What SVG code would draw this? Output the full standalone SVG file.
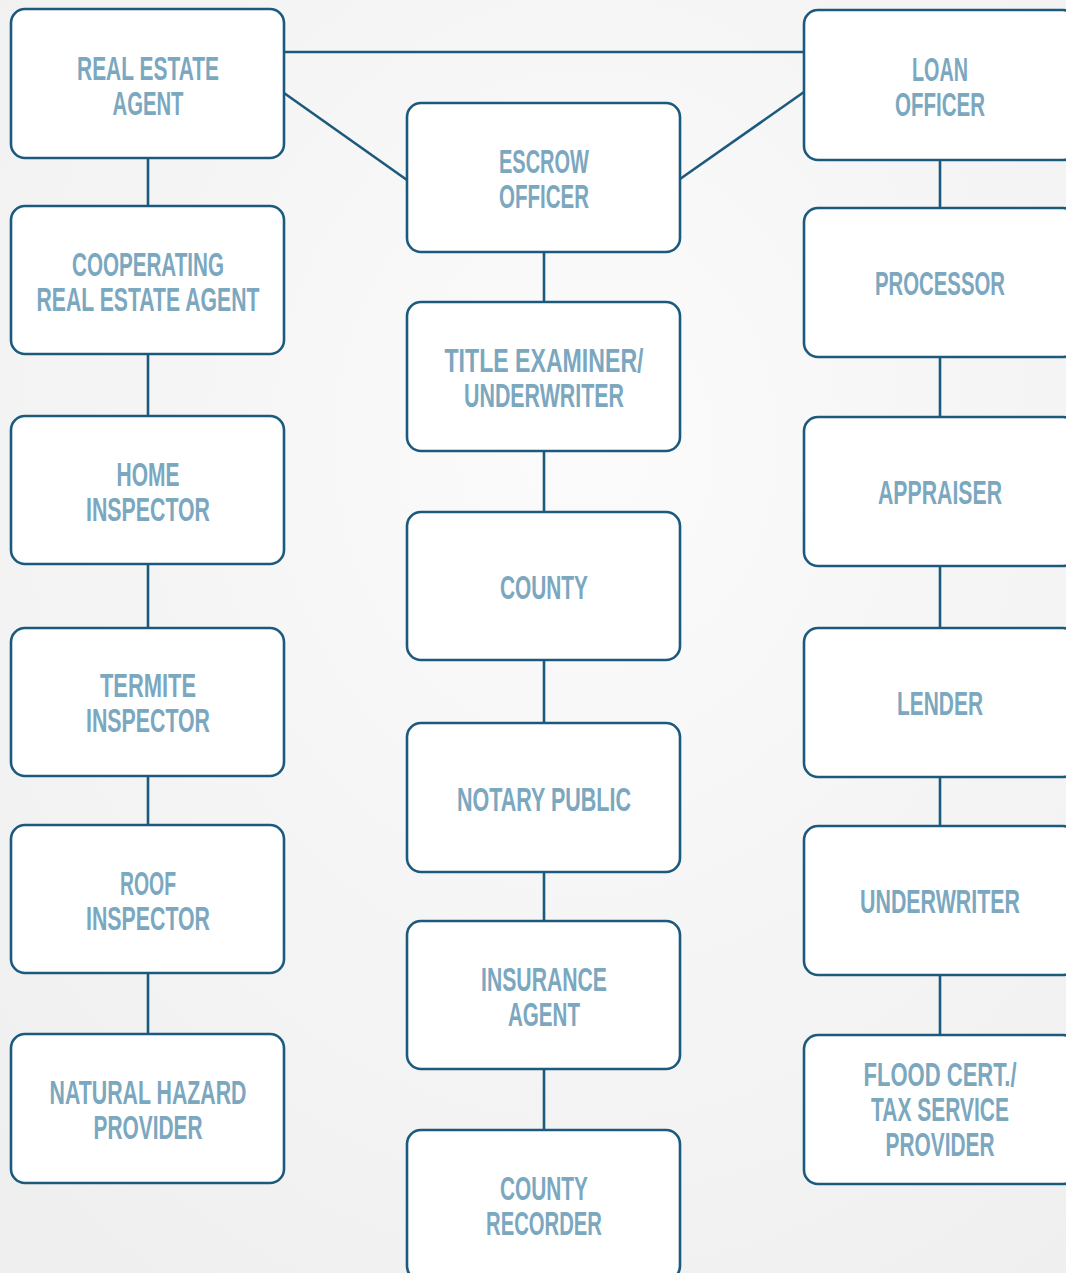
<svg xmlns="http://www.w3.org/2000/svg" width="1066" height="1273" viewBox="0 0 1066 1273">
<defs>
<radialGradient id="bg" cx="0.55" cy="0.35" r="0.8">
<stop offset="0" stop-color="#fbfbfb"/>
<stop offset="1" stop-color="#efefef"/>
</radialGradient>
<style>
.box{fill:#ffffff;stroke:#1c5a7d;stroke-width:2.6}
.con{stroke:#1c5a7d;stroke-width:2.6;fill:none}
.t{font-family:"Liberation Sans","DejaVu Sans",sans-serif;font-weight:bold;font-size:34px;fill:#7ba7bf;text-anchor:middle}
</style>
</defs>
<rect width="1066" height="1273" fill="url(#bg)"/>
<g id="connectors">
<line class="con" x1="284" y1="52" x2="804" y2="52"/>
<line class="con" x1="284" y1="93" x2="407" y2="180"/>
<line class="con" x1="680" y1="179" x2="804" y2="92"/>
<line class="con" x1="148" y1="158" x2="148" y2="206"/>
<line class="con" x1="148" y1="354" x2="148" y2="416"/>
<line class="con" x1="148" y1="564" x2="148" y2="628"/>
<line class="con" x1="148" y1="776" x2="148" y2="825"/>
<line class="con" x1="148" y1="973" x2="148" y2="1034"/>
<line class="con" x1="544" y1="252" x2="544" y2="302"/>
<line class="con" x1="544" y1="451" x2="544" y2="512"/>
<line class="con" x1="544" y1="660" x2="544" y2="723"/>
<line class="con" x1="544" y1="872" x2="544" y2="921"/>
<line class="con" x1="544" y1="1069" x2="544" y2="1130"/>
<line class="con" x1="940" y1="160" x2="940" y2="208"/>
<line class="con" x1="940" y1="357" x2="940" y2="417"/>
<line class="con" x1="940" y1="566" x2="940" y2="628"/>
<line class="con" x1="940" y1="777" x2="940" y2="826"/>
<line class="con" x1="940" y1="975" x2="940" y2="1035"/>
</g>
<g id="real-estate-agent"><rect class="box" x="11" y="9" width="273" height="149" rx="14"/>
<text class="t" x="148" y="80" textLength="142" lengthAdjust="spacingAndGlyphs">REAL ESTATE</text>
<text class="t" x="148" y="115" textLength="71" lengthAdjust="spacingAndGlyphs">AGENT</text></g>
<g id="cooperating-agent"><rect class="box" x="11" y="206" width="273" height="148" rx="14"/>
<text class="t" x="148" y="276" textLength="152" lengthAdjust="spacingAndGlyphs">COOPERATING</text>
<text class="t" x="148" y="311" textLength="223" lengthAdjust="spacingAndGlyphs">REAL ESTATE AGENT</text></g>
<g id="home-inspector"><rect class="box" x="11" y="416" width="273" height="148" rx="14"/>
<text class="t" x="148" y="486" textLength="63" lengthAdjust="spacingAndGlyphs">HOME</text>
<text class="t" x="148" y="521" textLength="124" lengthAdjust="spacingAndGlyphs">INSPECTOR</text></g>
<g id="termite-inspector"><rect class="box" x="11" y="628" width="273" height="148" rx="14"/>
<text class="t" x="148" y="697" textLength="96" lengthAdjust="spacingAndGlyphs">TERMITE</text>
<text class="t" x="148" y="732" textLength="124" lengthAdjust="spacingAndGlyphs">INSPECTOR</text></g>
<g id="roof-inspector"><rect class="box" x="11" y="825" width="273" height="148" rx="14"/>
<text class="t" x="148" y="895" textLength="56" lengthAdjust="spacingAndGlyphs">ROOF</text>
<text class="t" x="148" y="930" textLength="124" lengthAdjust="spacingAndGlyphs">INSPECTOR</text></g>
<g id="natural-hazard"><rect class="box" x="11" y="1034" width="273" height="149" rx="14"/>
<text class="t" x="148" y="1104" textLength="197" lengthAdjust="spacingAndGlyphs">NATURAL HAZARD</text>
<text class="t" x="148" y="1139" textLength="109" lengthAdjust="spacingAndGlyphs">PROVIDER</text></g>
<g id="escrow-officer"><rect class="box" x="407" y="103" width="273" height="149" rx="14"/>
<text class="t" x="544" y="173" textLength="90" lengthAdjust="spacingAndGlyphs">ESCROW</text>
<text class="t" x="544" y="208" textLength="90" lengthAdjust="spacingAndGlyphs">OFFICER</text></g>
<g id="title-examiner"><rect class="box" x="407" y="302" width="273" height="149" rx="14"/>
<text class="t" x="544" y="372" textLength="199" lengthAdjust="spacingAndGlyphs">TITLE EXAMINER/</text>
<text class="t" x="544" y="407" textLength="160" lengthAdjust="spacingAndGlyphs">UNDERWRITER</text></g>
<g id="county"><rect class="box" x="407" y="512" width="273" height="148" rx="14"/>
<text class="t" x="544" y="599" textLength="88" lengthAdjust="spacingAndGlyphs">COUNTY</text></g>
<g id="notary-public"><rect class="box" x="407" y="723" width="273" height="149" rx="14"/>
<text class="t" x="544" y="811" textLength="174" lengthAdjust="spacingAndGlyphs">NOTARY PUBLIC</text></g>
<g id="insurance-agent"><rect class="box" x="407" y="921" width="273" height="148" rx="14"/>
<text class="t" x="544" y="991" textLength="126" lengthAdjust="spacingAndGlyphs">INSURANCE</text>
<text class="t" x="544" y="1026" textLength="72" lengthAdjust="spacingAndGlyphs">AGENT</text></g>
<g id="county-recorder"><rect class="box" x="407" y="1130" width="273" height="150" rx="14"/>
<text class="t" x="544" y="1200" textLength="88" lengthAdjust="spacingAndGlyphs">COUNTY</text>
<text class="t" x="544" y="1235" textLength="116" lengthAdjust="spacingAndGlyphs">RECORDER</text></g>
<g id="loan-officer"><rect class="box" x="804" y="10" width="273" height="150" rx="14"/>
<text class="t" x="940" y="81" textLength="56" lengthAdjust="spacingAndGlyphs">LOAN</text>
<text class="t" x="940" y="116" textLength="90" lengthAdjust="spacingAndGlyphs">OFFICER</text></g>
<g id="processor"><rect class="box" x="804" y="208" width="273" height="149" rx="14"/>
<text class="t" x="940" y="295" textLength="130" lengthAdjust="spacingAndGlyphs">PROCESSOR</text></g>
<g id="appraiser"><rect class="box" x="804" y="417" width="273" height="149" rx="14"/>
<text class="t" x="940" y="504" textLength="124" lengthAdjust="spacingAndGlyphs">APPRAISER</text></g>
<g id="lender"><rect class="box" x="804" y="628" width="273" height="149" rx="14"/>
<text class="t" x="940" y="715" textLength="86" lengthAdjust="spacingAndGlyphs">LENDER</text></g>
<g id="underwriter"><rect class="box" x="804" y="826" width="273" height="149" rx="14"/>
<text class="t" x="940" y="913" textLength="160" lengthAdjust="spacingAndGlyphs">UNDERWRITER</text></g>
<g id="flood-cert"><rect class="box" x="804" y="1035" width="273" height="149" rx="14"/>
<text class="t" x="940" y="1086" textLength="153" lengthAdjust="spacingAndGlyphs">FLOOD CERT./</text>
<text class="t" x="940" y="1121" textLength="138" lengthAdjust="spacingAndGlyphs">TAX SERVICE</text>
<text class="t" x="940" y="1156" textLength="109" lengthAdjust="spacingAndGlyphs">PROVIDER</text></g>
</svg>
